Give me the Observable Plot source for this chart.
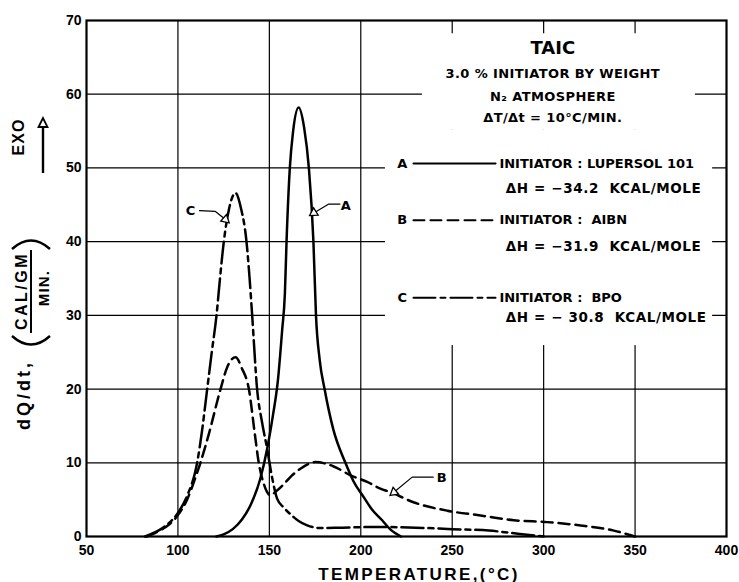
<!DOCTYPE html>
<html>
<head>
<meta charset="utf-8">
<script src="https://cdn.jsdelivr.net/npm/d3@7"></script>
<script src="https://cdn.jsdelivr.net/npm/@observablehq/plot@0.6"></script>
<style>
  html, body { margin: 0; padding: 0; background: white; }
  #chart { width: 739px; height: 582px; }
</style>
</head>
<body>
<div id="chart"></div>
<script>
// ---- Data (temperature °C, dQ/dt cal/gm/min) ----
const tempA = [121, 125, 130, 135, 140, 145, 148.8, 152, 154.6, 157, 158.5, 159.4, 161.2, 163, 166, 169, 171.6, 174.1, 175.5, 177.5, 180.2, 185, 191.6, 196, 201.7, 206, 211.7, 216, 222];
const heatA = [0, 0.3, 1.0, 2.3, 4.4, 7.8, 11.9, 16.5, 21, 28, 33, 40, 50, 55, 58.2, 55.5, 50, 40, 30, 24, 20, 14.5, 10, 7.5, 5.3, 3.7, 2.2, 1.0, 0];

const tempB = [83, 90, 95, 100, 105, 110, 112.3, 117, 123.3, 127, 131.5, 135, 138.8, 142, 144.2, 147, 150.6, 154, 157.9, 162, 167, 175.2, 185.2, 194.4, 203.5, 210.7, 216.3, 228.8, 247.3, 265.5, 283.7, 302, 320.2, 338.4, 350];
const heatB = [0, 0.8, 1.6, 2.9, 5.0, 8.3, 10, 14, 20, 23, 24.3, 22.8, 20, 14, 10, 7.1, 5.6, 6.2, 7.1, 8.2, 9.2, 10.1, 9.5, 8.3, 7.4, 6.5, 6.0, 4.65, 3.5, 2.85, 2.2, 1.95, 1.5, 0.8, 0];

const tempC = [82, 90, 95, 100, 105, 110.5, 113, 116, 118.5, 121.1, 123, 125.1, 128, 131.5, 134.5, 137.5, 139.2, 140.6, 143.3, 146, 148.8, 151.5, 154.3, 158, 161.6, 166, 170.7, 178, 190, 210, 230, 250, 270, 287, 300];
const heatC = [0, 0.9, 1.8, 3.2, 5.5, 10, 14, 20, 25, 30, 35, 40, 44.5, 46.6, 44.5, 40, 35, 30, 20, 15.5, 11.9, 8, 5.1, 3.9, 3.0, 2.1, 1.5, 1.15, 1.2, 1.3, 1.2, 1.0, 0.8, 0.35, 0];

const xTicks = [50, 100, 150, 200, 250, 300, 350, 400];
const yTicks = [0, 10, 20, 30, 40, 50, 60, 70];
const xGrid = [100, 150, 200, 250, 300, 350];
const yGrid = [10, 20, 30, 40, 50, 60];

const seriesNames = ["A", "B", "C"];
const initiators = ["INITIATOR : LUPERSOL 101", "INITIATOR :  AIBN", "INITIATOR :  BPO"];
const enthalpies = ["ΔH = −34.2  KCAL/MOLE", "ΔH = −31.9  KCAL/MOLE", "ΔH = − 30.8  KCAL/MOLE"];
const dashes = [null, "11,6", "22,5,5,5"];

const titleLines = ["TAIC", "3.0 % INITIATOR BY WEIGHT", "N₂ ATMOSPHERE", "ΔT/Δt = 10°C/MIN."];

// ---- build tables ----
const mk = (t, h) => t.map((x, i) => ({x, y: h[i]}));
const curves = [mk(tempA, heatA), mk(tempB, heatB), mk(tempC, heatC)];

// annotation placement (data units)
const titleX = 305, titleY = [66.2, 62.8, 59.6, 56.8];
const legendRowY = [50.6, 42.9, 32.4];
const legendHY = [47.2, 39.3, 29.7];
const legendLetterX = 222.7, sampleX1 = 228.8, sampleX2 = 273.7, legendTextX = 275.8, legendHX = 279.3;
const masks = [
  {x1: 233.7, x2: 383, y1: 55.1, y2: 68.2},
  {x1: 213.5, x2: 392.4, y1: 25.9, y2: 55.1}
];
const leaders = [
  {label: "A", lx: 191.8, ly: 44.8, pts: [[188.6, 45.1], [182.5, 45.1], [174.3, 43.9]], rot: 238},
  {label: "B", lx: 244.2, ly: 8.0, pts: [[239.6, 8.05], [228.1, 8.05], [218.1, 6.0]], rot: 231},
  {label: "C", lx: 106.9, ly: 44.2, pts: [[111.8, 44.2], [120.5, 44.1], [126.0, 43.0]], rot: 131}
];

const legendFont = "DejaVu Sans";
const marks = [];
marks.push(Plot.ruleX(xGrid, {stroke: "black", strokeWidth: 1.2}));
marks.push(Plot.ruleY(yGrid, {stroke: "black", strokeWidth: 1.2}));
marks.push(Plot.rect(masks, {x1: "x1", x2: "x2", y1: "y1", y2: "y2", fill: "white"}));
curves.forEach((c, i) => {
  marks.push(Plot.line(c, {x: "x", y: "y", curve: "monotone-x", stroke: "black", strokeWidth: 2.5, strokeDasharray: dashes[i]}));
});
leaders.forEach(l => {
  marks.push(Plot.line(l.pts, {x: d => d[0], y: d => d[1], stroke: "black", strokeWidth: 1.2}));
  marks.push(Plot.dot([l.pts[2]], {x: d => d[0], y: d => d[1], symbol: "triangle", r: 3.2, fill: "white", stroke: "black", strokeWidth: 1.3, rotate: l.rot}));
  marks.push(Plot.text([l], {x: "lx", y: "ly", text: "label", fontFamily: legendFont, fontWeight: "bold", fontSize: 13, fill: "black"}));
});
marks.push(Plot.text(titleLines, {x: titleX, y: (d, i) => titleY[i], text: d => d, fontFamily: legendFont, fontWeight: "bold", fontSize: (d, i) => i === 0 ? 18 : 13, fill: "black"}));
seriesNames.forEach((s, i) => {
  marks.push(Plot.text([s], {x: legendLetterX, y: legendRowY[i], text: d => d, fontFamily: legendFont, fontWeight: "bold", fontSize: 13, fill: "black"}));
  marks.push(Plot.line([sampleX1, sampleX2], {x: d => d, y: () => legendRowY[i], stroke: "black", strokeWidth: 2, strokeDasharray: dashes[i]}));
  marks.push(Plot.text([initiators[i]], {x: legendTextX, y: legendRowY[i], text: d => d, textAnchor: "start", fontFamily: legendFont, fontWeight: "bold", fontSize: 13, fill: "black"}));
  marks.push(Plot.text([enthalpies[i]], {x: legendHX, y: legendHY[i], text: d => d, textAnchor: "start", fontFamily: legendFont, fontWeight: "bold", fontSize: 13.5, fill: "black"}));
});
marks.push(Plot.frame({stroke: "black", strokeWidth: 2.2}));
marks.push(Plot.axisX({ticks: xTicks, tickSize: 0, tickPadding: 9, label: null, fontSize: 14}));
marks.push(Plot.axisY({ticks: yTicks, tickSize: 0, tickPadding: 5, label: null, fontSize: 14}));

const chart = Plot.plot({
  width: 739, height: 582,
  marginLeft: 86, marginRight: 13, marginTop: 20, marginBottom: 46,
  x: {domain: [50, 400]},
  y: {domain: [0, 70]},
  style: {fontFamily: "Liberation Sans", fontWeight: "bold", fontSize: "14px", color: "black", background: "white", overflow: "visible"},
  marks
});
document.getElementById("chart").appendChild(chart);

// letter spacing for the lettered annotations
const svg = d3.select(chart);
svg.selectAll("text").each(function () {
  const t = this.textContent;
  if (t.startsWith("ΔH")) this.setAttribute("letter-spacing", "0.6");
  else if (t.startsWith("3.0") || t.startsWith("N₂") || t.startsWith("ΔT")) this.setAttribute("letter-spacing", "0.4");
});

// ---- axis titles (text) ----
const g = svg.append("g").attr("fill", "black").attr("font-family", "Liberation Sans").attr("font-weight", "bold");
g.append("text").attr("transform", "translate(419,574)").attr("text-anchor", "middle").attr("dominant-baseline", "central")
  .attr("font-size", 17).attr("letter-spacing", 2.4).text("TEMPERATURE,(°C)");
g.append("text").attr("transform", "translate(18,137) rotate(-90)").attr("text-anchor", "middle").attr("dominant-baseline", "central")
  .attr("font-size", 16).attr("letter-spacing", 1).text("EXO");
g.append("line").attr("x1", 43).attr("x2", 43).attr("y1", 173).attr("y2", 126).attr("stroke", "black").attr("stroke-width", 2.4);
g.append("path").attr("d", "M43,118 L38.5,127 L47.5,127 Z").attr("fill", "white").attr("stroke", "black").attr("stroke-width", 1.8);
g.append("text").attr("transform", "translate(24,395) rotate(-90)").attr("text-anchor", "middle").attr("dominant-baseline", "central")
  .attr("font-size", 18).attr("letter-spacing", 3).text("dQ/dt,");
g.append("text").attr("transform", "translate(21,291) rotate(-90)").attr("text-anchor", "middle").attr("dominant-baseline", "central")
  .attr("font-size", 16).attr("letter-spacing", 2.5).text("CAL/GM");
g.append("text").attr("transform", "translate(43,288) rotate(-90)").attr("text-anchor", "middle").attr("dominant-baseline", "central")
  .attr("font-size", 15).attr("letter-spacing", 1.2).text("MIN.");
g.append("line").attr("x1", 31).attr("x2", 31).attr("y1", 250).attr("y2", 333).attr("stroke", "black").attr("stroke-width", 2);
// large bracket arcs around the fraction
g.append("path").attr("d", "M12,249 Q31,232 50,249").attr("fill", "none").attr("stroke", "black").attr("stroke-width", 2.4);
g.append("path").attr("d", "M12,336 Q31,353 50,336").attr("fill", "none").attr("stroke", "black").attr("stroke-width", 2.4);
</script>
</body>
</html>
